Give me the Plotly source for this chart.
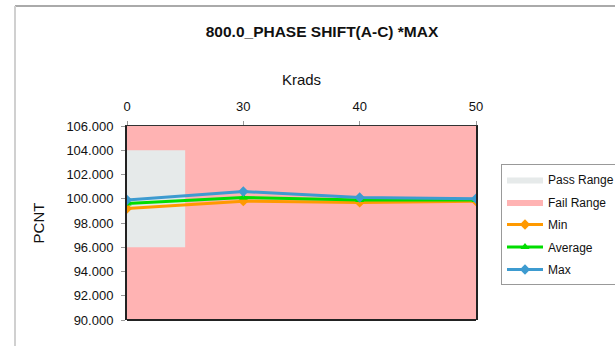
import plotly.graph_objects as go

# ---- data ----
categories = ["0", "30", "40", "50"]
min_vals = [99.2, 99.8, 99.7, 99.8]
avg_vals = [99.6, 100.1, 99.9, 99.9]
max_vals = [99.9, 100.6, 100.1, 100.0]
pass_low, pass_high = 96.0, 104.0
fail_low, fail_high = 90.0, 106.0
pass_x_end = 0.5  # pass range spans half a category from the first point
y_ticks = [90, 92, 94, 96, 98, 100, 102, 104, 106]

W, H = 615, 346
L, R, T, B = 127, 139, 126, 26
pw, ph = W - L - R, H - T - B

xpos = list(range(len(categories)))
last = xpos[-1]

fig = go.Figure()
fig.add_trace(go.Scatter(
    x=[0, last, last, 0, 0], y=[fail_low, fail_low, fail_high, fail_high, fail_low],
    fill="toself", fillcolor="#FFB3B3", line=dict(width=0), mode="lines",
    name="Fail Range", hoverinfo="skip", legendrank=2, legendgroup="b"))
fig.add_trace(go.Scatter(
    x=[0, pass_x_end, pass_x_end, 0, 0], y=[pass_low, pass_low, pass_high, pass_high, pass_low],
    fill="toself", fillcolor="#E6EAEA", line=dict(width=0), mode="lines",
    name="Pass Range", hoverinfo="skip", legendrank=1, legendgroup="a"))
fig.add_trace(go.Scatter(x=xpos, y=min_vals, name="Min", mode="lines+markers",
                         line=dict(color="#FF9900", width=3), legendgroup="c",
                         marker=dict(symbol="diamond", size=8, color="#FF9900"), legendrank=3))
fig.add_trace(go.Scatter(x=xpos, y=avg_vals, name="Average", mode="lines+markers",
                         line=dict(color="#00DD00", width=3), legendgroup="d",
                         marker=dict(symbol="triangle-up", size=8, color="#00DD00"), legendrank=4))
fig.add_trace(go.Scatter(x=xpos, y=max_vals, name="Max", mode="lines+markers",
                         line=dict(color="#3D9BD0", width=3), legendgroup="e",
                         marker=dict(symbol="diamond", size=8, color="#3D9BD0"), legendrank=5))

def px_x(p):
    return (p - L) / pw

def px_y(p):
    return (H - B - p) / ph

shapes = [
    # bottom frame line
    dict(type="line", xref="paper", yref="paper", x0=0, x1=1, y0=0, y1=0,
         line=dict(color="#222222", width=2)),
    # outer chart border
    dict(type="line", xref="paper", yref="paper", x0=px_x(15), x1=px_x(640),
         y0=px_y(6), y1=px_y(6), line=dict(color="#AAAAAA", width=2)),
    dict(type="line", xref="paper", yref="paper", x0=px_x(15), x1=px_x(15),
         y0=px_y(6), y1=px_y(360), line=dict(color="#D0D0D0", width=2)),
]

fig.update_layout(
    width=W, height=H, autosize=False,
    margin=dict(l=L, r=R, t=T, b=B, autoexpand=False),
    paper_bgcolor="white", plot_bgcolor="white",
    font=dict(family="Liberation Sans, Arial, sans-serif", color="#111111", size=13),
    title=dict(text="<b>800.0_PHASE SHIFT(A-C) *MAX</b>", x=px_x(322), xanchor="center",
               xref="paper", y=1 - 32 / H, yanchor="middle", font=dict(size=15.5)),
    xaxis=dict(side="top", range=[0, last], tickvals=xpos, ticktext=categories,
               showgrid=False, zeroline=False, ticks="outside", ticklen=4,
               tickcolor="#999999", showline=True, linecolor="#333333", linewidth=1,
               title=dict(text="Krads", font=dict(size=15), standoff=9),
               tickfont=dict(size=13), automargin=False, ticklabelstandoff=5),
    yaxis=dict(range=[fail_low, fail_high], tickvals=y_ticks, tickformat=".3f",
               showgrid=False, zeroline=False, ticks="outside", ticklen=4,
               tickcolor="#999999", showline=True, linecolor="#222222", linewidth=2,
               mirror=True, title=dict(text="PCNT", font=dict(size=15), standoff=18),
               tickfont=dict(size=13), automargin=False, ticklabelstandoff=5),
    legend=dict(x=px_x(501), y=px_y(164), xanchor="left", yanchor="top",
                bordercolor="#999999", borderwidth=1, bgcolor="white",
                font=dict(size=12), tracegroupgap=3.5, traceorder="grouped",
                itemwidth=36),
    shapes=shapes,
    showlegend=True,
)

fig.write_html("out.html", config={"displayModeBar": False, "responsive": False},
               post_script="document.body.style.margin='0';document.body.style.overflow='hidden';")
